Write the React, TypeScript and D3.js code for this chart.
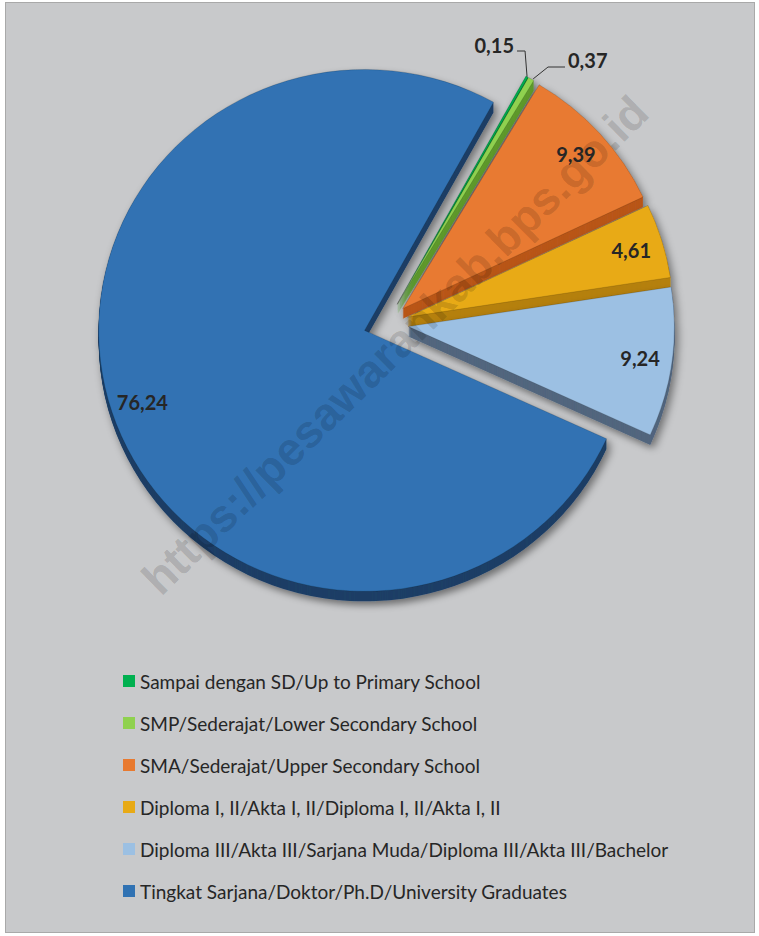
import React from 'react';
import * as d3 from 'd3';

const categories = [
  'Sampai dengan SD/Up to Primary School',
  'SMP/Sederajat/Lower Secondary School',
  'SMA/Sederajat/Upper Secondary School',
  'Diploma I, II/Akta I, II/Diploma I, II/Akta I, II',
  'Diploma III/Akta III/Sarjana Muda/Diploma III/Akta III/Bachelor',
  'Tingkat Sarjana/Doktor/Ph.D/University Graduates',
];
const values = [0.15, 0.37, 9.39, 4.61, 9.24, 76.24];
const labels = ['0,15', '0,37', '9,39', '4,61', '9,24', '76,24'];
const colors = ['#00b050', '#8fd14f', '#e87a30', '#e8aa16', '#9cc0e3', '#3072b3'];
const sideColors = ['#007a38', '#5f9a2c', '#b9561a', '#b5800c', '#52667e', '#1d3f66'];

const W = 759;
const H = 936;
const cx = 386;
const cy = 323.5;
const R = 266;
const SY = 0.981;
const EXPLODE = 22.5;
const DEPTH = 10;

const App = () => {
  const pie = d3
    .pie<number>()
    .sort(null)
    .value((d) => d)
    .startAngle((29 * Math.PI) / 180)
    .endAngle((29 * Math.PI) / 180 + 2 * Math.PI);
  const arcs = pie(values);
  const arc = d3.arc<d3.PieArcDatum<number>>().innerRadius(0).outerRadius(R);

  const mid = (a: d3.PieArcDatum<number>) => (a.startAngle + a.endAngle) / 2;
  const off = (a: d3.PieArcDatum<number>) => {
    const m = mid(a);
    return [Math.sin(m) * EXPLODE, -Math.cos(m) * EXPLODE];
  };
  // screen position of a point at angle/radius within slice i
  const pt = (i: number, ang: number, r: number) => {
    const [ox, oy] = off(arcs[i]);
    return [cx + ox + Math.sin(ang) * r, cy + (oy - Math.cos(ang) * r) * SY];
  };

  const depthSteps = d3.range(DEPTH, 0, -1);

  // leader lines for the two tiny slices
  const p0 = pt(0, mid(arcs[0]), R);
  const p1 = pt(1, mid(arcs[1]), R);

  const labelFont = "Lato, 'Open Sans', sans-serif";

  return (
    <svg width={W} height={H} style={{ position: 'absolute', left: 0, top: 0 }}>
      <defs>
        <filter id="shadow" x="-20%" y="-20%" width="140%" height="140%">
          <feDropShadow dx="3" dy="4" stdDeviation="4" floodColor="#000" floodOpacity="0.45" />
        </filter>
      </defs>
      <rect x={0} y={0} width={W} height={H} fill="#fff" />
      <rect x={5.5} y={2.5} width={749} height={930} fill="#c8c9cb" stroke="#a9a9a9" strokeWidth={1} />

      {arcs.map((a, i) => {
        const [ox, oy] = off(a);
        return (
          <g key={i} filter="url(#shadow)" transform={`translate(${cx},${cy}) scale(1,${SY})`}>
            {depthSteps.map((k) => (
              <path
                key={k}
                d={arc(a) || ''}
                transform={`translate(${ox},${oy + k / SY})`}
                fill={sideColors[i]}
              />
            ))}
            <path
              d={arc(a) || ''}
              transform={`translate(${ox},${oy})`}
              fill={colors[i]}
              stroke="rgba(0,0,0,0.25)"
              strokeWidth={0.6}
            />
          </g>
        );
      })}

      {arcs.slice(2).map((a, j) => {
        const i = j + 2;
        const [x, y] = pt(i, mid(a), 234);
        return (
          <text
            key={i}
            x={x}
            y={y}
            textAnchor="middle"
            dominantBaseline="central"
            fontFamily={labelFont}
            fontWeight="bold"
            fontSize={20}
            fill="#262626"
          >
            {labels[i]}
          </text>
        );
      })}

      <polyline
        points={`${p0[0]},${p0[1]} ${p0[0] - 2},51 517,51`}
        fill="none"
        stroke="#333"
        strokeWidth={1}
      />
      <text
        x={514}
        y={45}
        textAnchor="end"
        dominantBaseline="central"
        fontFamily={labelFont}
        fontWeight="bold"
        fontSize={20}
        fill="#262626"
      >
        {labels[0]}
      </text>
      <polyline
        points={`${p1[0] + 2},${p1[1]} 548,67 565,67`}
        fill="none"
        stroke="#333"
        strokeWidth={1}
      />
      <text
        x={568}
        y={60}
        textAnchor="start"
        dominantBaseline="central"
        fontFamily={labelFont}
        fontWeight="bold"
        fontSize={20}
        fill="#262626"
      >
        {labels[1]}
      </text>

      <text
        x={395}
        y={345}
        transform="rotate(-44.5 395 345)"
        textAnchor="middle"
        dominantBaseline="central"
        fontFamily="'Liberation Sans', Arial, sans-serif"
        fontWeight="bold"
        fontSize={46}
        fill="#000"
        fillOpacity={0.15}
      >
        https://pesawarankab.bps.go.id
      </text>

      <g fontFamily={labelFont} fontSize={19} fill="#262626">
        {categories.map((c, i) => (
          <g key={i} transform={`translate(123,${681 + i * 42})`}>
            <rect x={0} y={-6} width={12} height={12} fill={colors[i]} />
            <text x={17} y={0} dominantBaseline="central">
              {c}
            </text>
          </g>
        ))}
      </g>
    </svg>
  );
};

export default App;
